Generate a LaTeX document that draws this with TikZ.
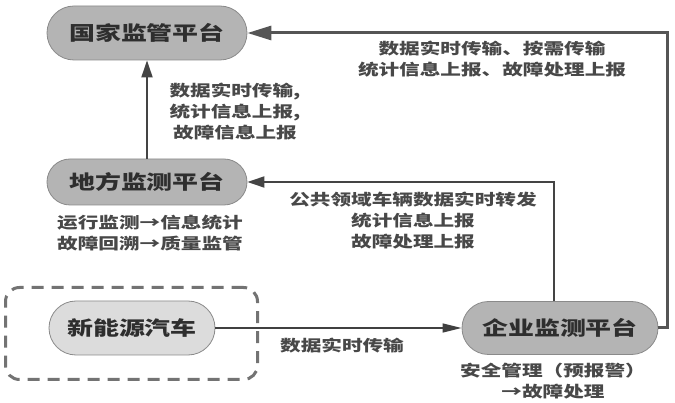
\documentclass[tikz,border=0pt]{standalone}
\usepackage{fontspec}
\IfFontExistsTF{Noto Sans CJK SC Black}
  {\setmainfont{Noto Sans CJK SC}[FakeStretch=1.33,BoldFont={Noto Sans CJK SC Black}]}
  {\setmainfont{Noto Sans CJK SC}[FakeStretch=1.33,BoldFont={Noto Sans CJK SC Bold},FakeBold=1.2]}
\usetikzlibrary{arrows.meta,shapes.misc}
\definecolor{pilldark}{HTML}{B4B4B4}
\definecolor{pilllight}{HTML}{DCDCDC}
\definecolor{txt}{HTML}{2E2E2E}
\definecolor{lbl}{HTML}{484848}
\definecolor{ln}{HTML}{555555}
\definecolor{bord}{HTML}{8A8A8A}
\begin{document}
\begin{tikzpicture}[x=1pt,y=-1pt,
  pill/.style={rounded rectangle, draw=bord, line width=0.8pt, text=txt,
    font=\bfseries\fontsize{19.5}{22}\selectfont, inner sep=0pt},
  lab/.style={align=center, text=lbl, font=\bfseries\fontsize{15.5}{21}\selectfont, inner sep=0pt},
  heavy/.style={draw=ln, line width=3pt, -{Triangle[length=24pt,width=14pt]}},
  mid/.style={draw=ln!80!black, line width=1.8pt, -{Triangle[length=17pt,width=11pt]}},
  thin/.style={draw=black!75, line width=1.4pt, -{Triangle[length=19pt,width=9pt]}},
  dashbox/.style={draw=black!55, line width=3pt, dash pattern=on 12pt off 8pt, rounded corners=14pt}
]
\useasboundingbox (0,0) rectangle (675,403);
\fill[white] (0,0) rectangle (675,403);

\node[dashbox, minimum width=252pt, minimum height=92pt] (box) at (131.5,333.5) {};

\node[pill, fill=pilldark, minimum width=200pt, minimum height=54pt] (gj) at (147,33) {国家监管平台};
\node[pill, fill=pilldark, minimum width=200pt, minimum height=46pt] (df) at (147,182) {地方监测平台};
\node[pill, fill=pilllight, minimum width=166pt, minimum height=54pt] (xny) at (132,328) {新能源汽车};
\node[pill, fill=pilldark, minimum width=196pt, minimum height=53pt] (qy) at (560,328) {企业监测平台};

\coordinate (rc) at (667,33);
\coordinate (mc) at (554,182);

\draw[heavy] (qy.east) -| (rc) -- (gj.east);
\draw[mid] (qy.north -| mc) -- (mc) -- (df.east);
\draw[mid] (df.north) -- (gj.south);
\draw[thin] (xny.east) -- (qy.west);

\node[lab] (l1) at (235,112) {数据实时传输,\\统计信息上报,\\故障信息上报};
\node[lab] (l2) at (492,59.5) {数据实时传输、按需传输\\统计信息上报、故障处理上报};
\node[lab] (l3) at (413,221) {公共领域车辆数据实时转发\\统计信息上报\\故障处理上报};
\node[lab] (l4) at (150,233) {运行监测→信息统计\\故障回溯→质量监管};
\node[lab] (l5) at (342,346) {数据实时传输};
\node[lab] (l6) at (553,381) {安全管理（预报警）\\→故障处理};
\end{tikzpicture}
\end{document}
